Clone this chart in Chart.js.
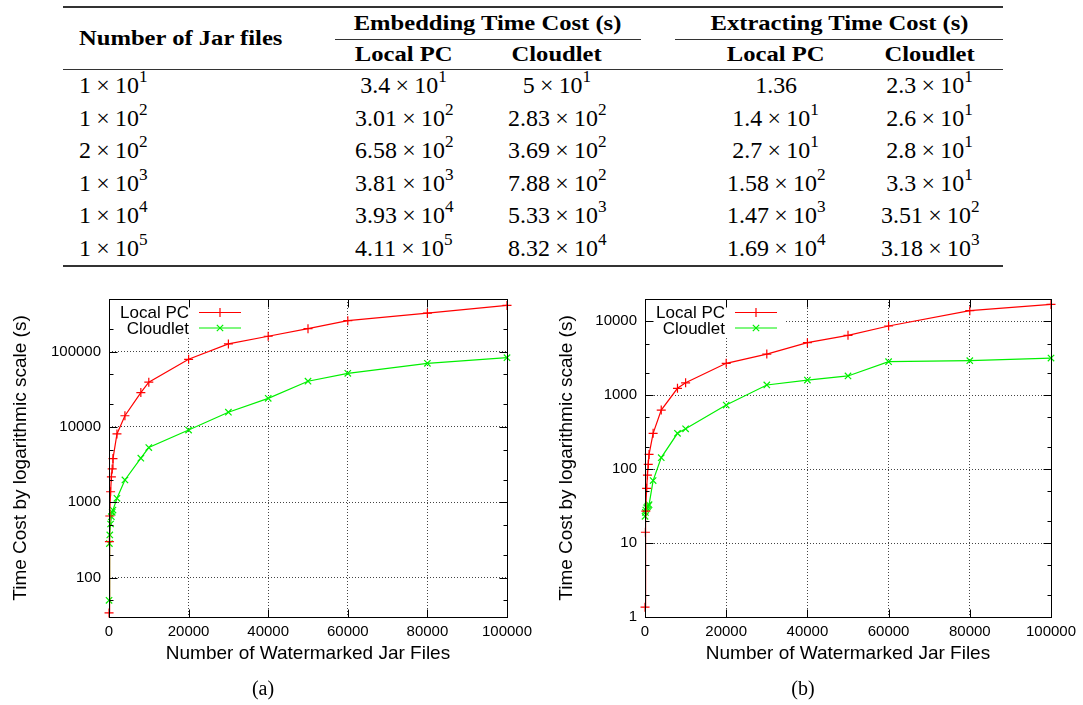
<!DOCTYPE html>
<html lang="en">
<head>
<meta charset="UTF-8">
<title>Watermarking time cost: Local PC vs Cloudlet</title>
<style>
  body {
    margin: 0;
    background: #fff;
    width: 1083px;
    height: 705px;
    position: relative;
    overflow: hidden;
  }

  table.costs {
    position: absolute;
    left: 63px;
    top: 6px;
    width: 940px;
    border-collapse: collapse;
    table-layout: fixed;
    font-family: 'Liberation Serif', 'Times New Roman', serif;
    color: #000;
  }

  table.costs th, table.costs td {
    padding: 0;
    text-align: center;
    white-space: nowrap;
  }

  table.costs th {
    font-size: 20.5px;
    font-weight: bold;
  }

  table.costs td {
    font-size: 23px;
  }

  tr.top th { border-top: 2px solid #333; height: 31px; }
  th.group { border-bottom: 1px solid #333; }
  tr.sub th, th.first { border-bottom: 1px solid #333; }
  tr.sub th { height: 29px; }
  table.costs tbody td { height: 32.5px; }
  table.costs tbody tr:last-child td { border-bottom: 2px solid #333; }

  table.costs .first, table.costs td:first-child { text-align: left; padding-left: 16px; }
  table.costs .last, table.costs td:last-child { padding-right: 20px; }

  /* bold headings are set wide, the numbers slightly wide */
  .w { display: inline-block; transform: scaleX(1.2); }
  .first .w { transform-origin: left center; }
  .n { display: inline-block; transform: scaleX(1.04); }
  td:first-child .n { transform-origin: left center; }
  .n .times { margin: 0 0.22em; }
  .n sup { font-size: 0.72em; line-height: 0; vertical-align: 0.66em; }

  canvas { position: absolute; top: 280px; }
  #embedChart { left: 0; }
  #extractChart { left: 540px; }

  .caption {
    position: absolute;
    top: 677px;
    width: 40px;
    text-align: center;
    font-family: 'Liberation Serif', 'Times New Roman', serif;
    font-size: 20px;
  }
</style>
</head>
<body>

<table class="costs">
  <colgroup>
    <col style="width:272px"><col style="width:138px"><col style="width:168px">
    <col style="width:34px"><col style="width:202px"><col style="width:126px">
  </colgroup>
  <thead>
    <tr class="top">
      <th rowspan="2" class="first"><span class="w">Number of Jar files</span></th>
      <th colspan="2" class="group"><span class="w">Embedding Time Cost (s)</span></th>
      <th></th>
      <th colspan="2" class="group"><span class="w">Extracting Time Cost (s)</span></th>
    </tr>
    <tr class="sub">
      <th><span class="w">Local PC</span></th>
      <th><span class="w">Cloudlet</span></th>
      <th></th>
      <th><span class="w">Local PC</span></th>
      <th class="last"><span class="w">Cloudlet</span></th>
    </tr>
  </thead>
  <tbody id="costRows"></tbody>
</table>

<canvas id="embedChart" width="540" height="400"></canvas>
<canvas id="extractChart" width="543" height="400"></canvas>

<div class="caption" style="left:243px">(a)</div>
<div class="caption" style="left:783px">(b)</div>

<script src="https://cdn.jsdelivr.net/npm/chart.js"></script>
<script>
  // measured runs: number of watermarked jar files and time cost in seconds
  const jarFiles = [10, 100, 200, 400, 600, 800, 1000, 2000, 4000, 8000, 10000,
                    20000, 30000, 40000, 50000, 60000, 80000, 100000];
  const embedLocal = [34, 301, 658, 1380, 2170, 2770, 3810, 8080, 14100, 28600, 39300,
                      79200, 126700, 160000, 202000, 258000, 324000, 411000];
  const embedCloud = [50, 283, 369, 515, 644, 737, 788, 1130, 1980, 3850, 5330,
                      9100, 15700, 24000, 40500, 51500, 70000, 83200];
  const extractLocal = [1.36, 14, 27, 55, 83, 116, 158, 305, 630, 1240, 1470,
                        2700, 3600, 5130, 6450, 8630, 13900, 16900];
  const extractCloud = [23, 26, 28, 30, 31, 32, 33, 70, 143, 305, 351,
                        736, 1375, 1600, 1820, 2840, 2930, 3180];

  // rows listed in the summary table
  const tableRows = [10, 100, 200, 1000, 10000, 100000];

  const seriesNames = ['Local PC', 'Cloudlet'];
  const xTicks = [0, 20000, 40000, 60000, 80000, 100000];
  const embedTicks = [100, 1000, 10000, 100000];
  const extractTicks = [1, 10, 100, 1000, 10000];

  const FONT = "'Liberation Sans', Arial, Helvetica, sans-serif";

  // ---- table ----
  function sci(v) {
    const e = Math.floor(Math.log10(v) + 1e-9);
    if (e === 0) return `<span class="n">${v}</span>`;
    const m = +(v / Math.pow(10, e)).toPrecision(3);
    return `<span class="n">${m}<span class="times">×</span>10<sup>${e}</sup></span>`;
  }

  const body = document.getElementById('costRows');
  tableRows.forEach(n => {
    const i = jarFiles.indexOf(n);
    const tr = document.createElement('tr');
    tr.innerHTML = `<td>${sci(n)}</td><td>${sci(embedLocal[i])}</td><td>${sci(embedCloud[i])}</td>` +
                   `<td></td><td>${sci(extractLocal[i])}</td><td>${sci(extractCloud[i])}</td>`;
    body.appendChild(tr);
  });

  // ---- charts ----
  // minor log ticks at 2x and 5x of each decade
  function minorTicks(min, max) {
    const out = [];
    for (let e = Math.floor(Math.log10(min)); e <= Math.ceil(Math.log10(max)); e++) {
      [2, 5].forEach(m => {
        const v = m * Math.pow(10, e);
        if (v > min && v < max) out.push(v);
      });
    }
    return out;
  }

  // gnuplot look: opaque key patch, inward ticks, closed frame, key inside top-left
  const gnuplotBox = {
    id: 'gnuplotBox',
    beforeDatasetsDraw(chart) {
      const {ctx, chartArea: a} = chart;
      ctx.save();
      ctx.fillStyle = '#fff';
      ctx.fillRect(a.left + 1, a.top + 1, 140, 37);
      ctx.restore();
    },
    afterDatasetsDraw(chart, args, opts) {
      const {ctx, chartArea: a, scales: {x, y}} = chart;
      const L = Math.round(a.left) + 0.5, R = Math.round(a.right) + 0.5;
      const T = Math.round(a.top) + 0.5, B = Math.round(a.bottom) + 0.5;
      ctx.save();
      ctx.strokeStyle = '#000';
      ctx.lineWidth = 1;
      ctx.beginPath();
      y.ticks.forEach(t => {
        const py = Math.round(y.getPixelForValue(t.value)) + 0.5;
        ctx.moveTo(L, py); ctx.lineTo(L + 8, py);
        ctx.moveTo(R, py); ctx.lineTo(R - 8, py);
      });
      opts.minor.forEach(v => {
        const py = Math.round(y.getPixelForValue(v)) + 0.5;
        ctx.moveTo(L, py); ctx.lineTo(L + 4, py);
        ctx.moveTo(R, py); ctx.lineTo(R - 4, py);
      });
      x.ticks.forEach(t => {
        const px = Math.round(x.getPixelForValue(t.value)) + 0.5;
        ctx.moveTo(px, B); ctx.lineTo(px, B - 8);
        ctx.moveTo(px, T); ctx.lineTo(px, T + 8);
      });
      ctx.stroke();
      ctx.strokeRect(L, T, R - L, B - T);
      ctx.restore();
    },
    afterDraw(chart) {
      const {ctx, chartArea: a} = chart;
      ctx.save();
      chart.data.datasets.forEach((ds, i) => {
        const ky = a.top + 13.5 + i * 15.5;
        ctx.font = `17px ${FONT}`;
        ctx.fillStyle = '#000';
        ctx.textAlign = 'right';
        ctx.textBaseline = 'middle';
        ctx.fillText(ds.label, a.left + 80, ky + 1);
        ctx.strokeStyle = ds.borderColor;
        ctx.lineWidth = ds.borderWidth;
        ctx.beginPath();
        ctx.moveTo(a.left + 90, ky);
        ctx.lineTo(a.left + 132, ky);
        ctx.stroke();
        ctx.lineWidth = ds.pointBorderWidth;
        Chart.helpers.drawPoint(ctx, {pointStyle: ds.pointStyle, radius: ds.pointRadius,
                                      borderWidth: ds.pointBorderWidth, rotation: 0}, a.left + 111, ky);
      });
      ctx.restore();
    }
  };

  function series(label, values, color, marker) {
    return {
      label,
      data: jarFiles.map((n, i) => ({x: n, y: values[i]})),
      borderColor: color,
      backgroundColor: color,
      borderWidth: 1.2,
      pointStyle: marker,
      pointRadius: 4.5,
      pointBorderWidth: 1.2,
      tension: 0,
      clip: false
    };
  }

  function buildChart(id, local, cloud, yMin, yMax, yTicks, box) {
    const tickFont = {family: FONT, size: 15};
    const titleFont = {family: FONT, size: 19};
    return new Chart(document.getElementById(id), {
      type: 'line',
      data: {
        datasets: [
          series(seriesNames[0], local, '#ff0000', 'cross'),
          series(seriesNames[1], cloud, '#00f000', 'crossRot')
        ]
      },
      options: {
        responsive: false,
        animation: false,
        devicePixelRatio: 1,
        layout: {padding: {left: 0, top: 19, right: box.right, bottom: 0}},
        plugins: {
          legend: {display: false},
          tooltip: {enabled: false},
          gnuplotBox: {minor: minorTicks(yMin, yMax)}
        },
        scales: {
          x: {
            type: 'linear',
            min: 0,
            max: 100000,
            afterBuildTicks: s => { s.ticks = xTicks.map(v => ({value: v})); },
            afterFit: s => { s.height = 63; },
            ticks: {color: '#000', font: tickFont, padding: 6, maxRotation: 0, autoSkip: false,
                    callback: v => String(v)},
            grid: {color: '#444', drawTicks: false},
            border: {display: false, dash: [1, 2]},
            title: {display: true, text: 'Number of Watermarked Jar Files', color: '#000',
                    font: titleFont, padding: {top: 0, bottom: 14.6}}
          },
          y: {
            type: 'logarithmic',
            min: yMin,
            max: yMax,
            afterBuildTicks: s => { s.ticks = yTicks.map(v => ({value: v})); },
            afterFit: s => { s.width = box.left; },
            ticks: {color: '#000', font: tickFont, padding: 8, autoSkip: false,
                    callback: v => String(v)},
            grid: {color: '#444', drawTicks: false},
            border: {display: false, dash: [1, 2]},
            title: {display: true, text: 'Time Cost by logarithmic scale (s)', color: '#000',
                    font: titleFont, padding: {top: box.titlePad, bottom: 0}}
          }
        }
      },
      plugins: [gnuplotBox]
    });
  }

  buildChart('embedChart', embedLocal, embedCloud, 30, 500000, embedTicks,
             {left: 109, right: 33, titlePad: 9.6});
  buildChart('extractChart', extractLocal, extractCloud, 1, 20000, extractTicks,
             {left: 105, right: 32, titlePad: 15});
</script>
</body>
</html>
